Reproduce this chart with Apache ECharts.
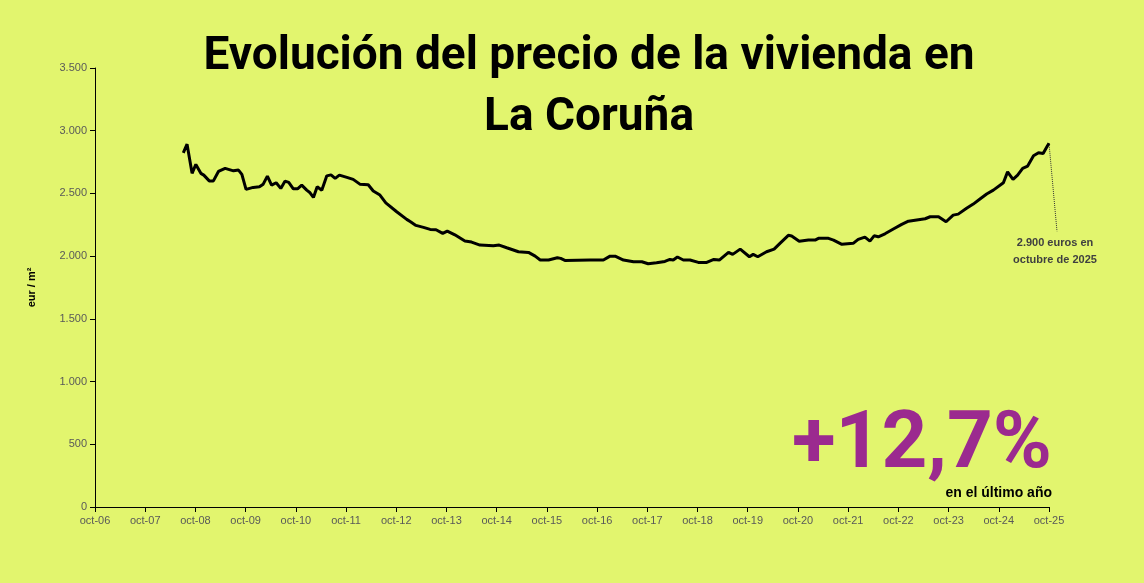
<!DOCTYPE html><html><head><meta charset="utf-8"><script src="https://cdn.jsdelivr.net/npm/echarts@6/dist/echarts.min.js"></script></head>
<body style="margin:0;background:#e2f56e"><div id="c" style="width:1144px;height:583px"></div>
<script>
const xLabels=['oct-06','oct-07','oct-08','oct-09','oct-10','oct-11','oct-12','oct-13','oct-14','oct-15','oct-16','oct-17','oct-18','oct-19','oct-20','oct-21','oct-22','oct-23','oct-24','oct-25'];
const months=[21.1,22,23.2,24.1,25.3,26,27.3,28.3,29.5,31.1,33.1,34.3,35.1,36.1,37.8,39.3,40.2,41.2,42.2,43.3,44.4,45.4,46.3,47.4,48.4,49.4,50.6,51.4,52.2,53.1,54.2,55.4,56.4,57.4,58.4,60.2,61.7,63.3,65.3,66.5,68.1,69.5,72.1,74.5,75.4,76.7,78.5,80.1,81.5,83.1,84.2,86,88.4,90,92,95.2,96.6,98.4,101.2,103.6,105.2,106.4,108.4,110.5,111.3,112.3,118.3,121.5,123.1,124.3,126.3,128.7,130.7,132.2,134.2,136.2,137.4,138.2,139.2,140.6,142.2,144.2,146.2,147.9,149.2,151.4,152.4,154.2,156.4,157.3,158.4,160.5,162.3,163.7,165.7,166.5,168.3,170.5,172.1,172.9,175.3,176.5,178.5,181.2,182.4,184,185.2,186.2,187.2,188.8,190.8,192.8,194.4,196,197.2,198.4,199.6,201.6,203.4,205.1,206.3,208.3,209.9,211.5,213.1,214.7,217.1,218.1,219.4,220.5,221.7,222.9,224.3,225.5,226.6,227.5,228];
const prices=[2824,2893,2660,2731,2660,2646,2600,2600,2675,2700,2680,2686,2652,2532,2548,2553,2574,2638,2566,2585,2540,2598,2588,2537,2537,2566,2526,2505,2468,2553,2526,2640,2648,2620,2646,2628,2612,2574,2569,2519,2487,2425,2354,2293,2274,2245,2229,2213,2210,2181,2200,2170,2120,2112,2088,2083,2088,2067,2035,2030,2000,1969,1969,1987,1982,1966,1969,1969,2000,2000,1969,1955,1955,1939,1947,1958,1974,1969,1993,1969,1969,1950,1950,1974,1969,2030,2014,2056,1995,2014,1995,2035,2056,2102,2166,2160,2118,2128,2128,2142,2142,2128,2094,2102,2134,2152,2120,2162,2154,2178,2216,2253,2279,2287,2293,2298,2314,2314,2274,2327,2335,2381,2415,2455,2495,2526,2585,2672,2612,2646,2700,2718,2800,2824,2819,2872,2900];
const ch=echarts.init(document.getElementById('c'));
const txt='#404040';
ch.setOption({
 backgroundColor:'#e2f56e',animation:false,
 grid:{left:95,right:95,top:68,bottom:76},
 title:{text:'Evolución del precio de la vivienda en\nLa Coruña',left:584,textAlign:'center',top:22,textStyle:{fontFamily:'Roboto',fontWeight:'bold',fontSize:46,lineHeight:61,color:'#000'}},
 xAxis:{type:'value',min:0,max:228,interval:12,axisLine:{lineStyle:{color:'#000'}},axisTick:{show:true,lineStyle:{color:'#000'}},splitLine:{show:false},
  axisLabel:{color:'#595959',fontSize:11,fontFamily:'Liberation Sans',formatter:v=>xLabels[v/12]||''}},
 yAxis:{type:'value',min:0,max:3500,interval:500,axisLine:{show:true,lineStyle:{color:'#000'}},splitLine:{show:false},
  name:'eur / m²',nameLocation:'middle',nameGap:58,nameTextStyle:{fontWeight:'bold',fontSize:11,color:'#000',fontFamily:'Liberation Sans'},
  axisLabel:{color:'#595959',fontSize:11,fontFamily:'Liberation Sans',formatter:v=>v.toLocaleString('de-DE')}},
 series:[{type:'line',data:months.map((m,i)=>[m,prices[i]]),showSymbol:false,lineStyle:{color:'#000',width:3},smooth:false}]
});
const p=ch.convertToPixel({xAxisIndex:0,yAxisIndex:0},[months[months.length-1],prices[prices.length-1]]);
ch.setOption({graphic:[
 {type:'line',shape:{x1:p[0],y1:p[1],x2:p[0]+8,y2:p[1]+88},style:{stroke:'#333',lineWidth:1,lineDash:[1,1]}},
 {type:'text',x:p[0]+6,y:p[1]+91,style:{text:'2.900 euros en\noctubre de 2025',align:'center',font:'bold 11px Liberation Sans',lineHeight:17,fill:txt}},
 {type:'text',x:1052,y:487,style:{text:'+12,7%',align:'right',verticalAlign:'bottom',font:'bold 80px Roboto',fill:'#9b2a8f'}},
 {type:'text',x:1052,y:493,style:{text:'en el último año',align:'right',verticalAlign:'middle',font:'bold 14px Liberation Sans',fill:'#000'}}
]});
</script></body></html>
